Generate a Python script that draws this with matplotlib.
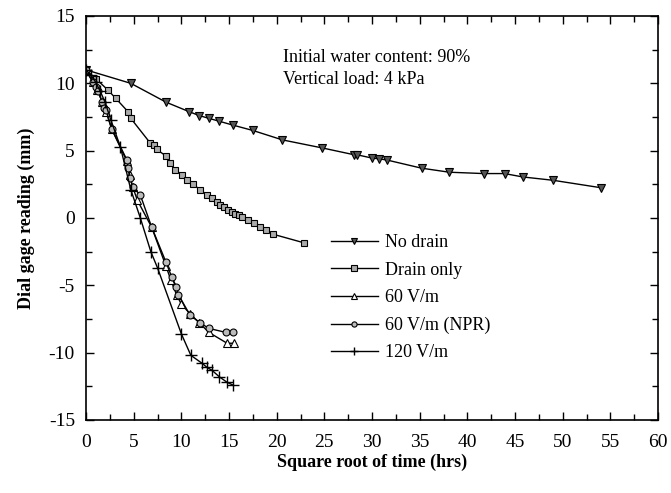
import matplotlib
matplotlib.use("Agg")
import matplotlib.pyplot as plt
from matplotlib.ticker import MultipleLocator

plt.rcParams['font.family'] = ['Liberation Serif', 'DejaVu Serif']
plt.rcParams['axes.unicode_minus'] = False

# ---- data ----
nodrain_x = [0, 4.7, 8.4, 10.8, 11.9, 12.9, 13.9, 15.4, 17.5, 20.6, 24.8, 28.1, 28.4,
             30.0, 30.7, 31.6, 35.2, 38.1, 41.7, 43.9, 45.8, 49.0, 54.0]
nodrain_y = [11.0, 10.0, 8.6, 7.9, 7.6, 7.4, 7.2, 6.9, 6.5, 5.8, 5.2, 4.7, 4.7,
             4.45, 4.4, 4.3, 3.7, 3.4, 3.3, 3.3, 3.05, 2.8, 2.25]

drain_x = [0, 1.1, 2.3, 3.1, 4.4, 4.7, 6.7, 7.1, 7.4, 8.4, 8.8, 9.3, 10.1, 10.6, 11.2,
           12.0, 12.7, 13.2, 13.7, 14.1, 14.5, 14.9, 15.3, 15.6, 16.0, 16.4, 17.0,
           17.6, 18.3, 18.9, 19.6, 22.9]
drain_y = [11.0, 10.3, 9.5, 8.9, 7.9, 7.4, 5.6, 5.4, 5.1, 4.6, 4.1, 3.6, 3.2, 2.8, 2.5,
           2.1, 1.7, 1.5, 1.2, 1.0, 0.8, 0.6, 0.45, 0.3, 0.2, 0.05, -0.15,
           -0.4, -0.65, -0.9, -1.2, -1.85]

v60_x = [0, 0.7, 1.2, 1.7, 2.1, 2.7, 4.3, 4.6, 4.9, 5.4, 6.9, 8.4, 8.9, 9.5, 10.0,
         10.9, 11.9, 12.9, 14.8, 15.5]
v60_y = [11.0, 10.1, 9.5, 8.6, 7.9, 6.6, 4.2, 3.2, 2.3, 1.3, -0.7, -3.6, -4.6, -5.7, -6.4,
         -7.1, -7.8, -8.5, -9.3, -9.3]

npr_x = [0, 0.7, 1.0, 1.3, 1.7, 1.9, 2.1, 2.7, 4.3, 4.4, 4.6, 4.9, 5.7, 6.9, 8.4, 9.0,
         9.4, 9.7, 10.9, 12.0, 12.9, 14.7, 15.4]
npr_y = [11.0, 10.1, 9.7, 9.4, 8.6, 8.2, 8.0, 6.6, 4.3, 3.7, 3.0, 2.3, 1.7, -0.7, -3.3, -4.4,
         -5.1, -5.7, -7.2, -7.8, -8.2, -8.5, -8.5]

v120_x = [0, 0.5, 1.0, 1.5, 2.0, 2.6, 3.6, 4.7, 5.7, 6.8, 7.5, 10.0, 11.0, 12.2, 12.7,
          13.2, 14.0, 14.8, 15.4]
v120_y = [11.0, 10.6, 10.1, 9.4, 8.6, 7.3, 5.3, 2.1, 0.0, -2.5, -3.7, -8.6, -10.2, -10.8, -11.1,
          -11.3, -11.8, -12.2, -12.4]

labels = ['No drain', 'Drain only', '60 V/m', '60 V/m (NPR)', '120 V/m']

# ---- figure ----
fig = plt.figure(figsize=(6.71, 4.93), dpi=100)
ax = fig.add_axes([86/671, 73/493, 572/671, 404/493])

lw = 1.0
ax.plot(nodrain_x, nodrain_y, color='black', lw=lw, marker='v', ms=6,
        mfc='#555555', mec='black', mew=0.8, label=labels[0])
ax.plot(drain_x, drain_y, color='black', lw=lw, marker='s', ms=5,
        mfc='#aaaaaa', mec='black', mew=0.8, label=labels[1])
ax.plot(v60_x, v60_y, color='black', lw=lw, marker='^', ms=5.5,
        mfc='white', mec='black', mew=0.8, label=labels[2])
ax.plot(npr_x, npr_y, color='black', lw=lw, marker='o', ms=5,
        mfc='#bbbbbb', mec='black', mew=0.8, label=labels[3])
ax.plot(v120_x, v120_y, color='black', lw=lw, marker='+', ms=8,
        mec='black', mew=1.0, label=labels[4])

ax.set_xlim(0, 60)
ax.set_ylim(-15, 15)
ax.xaxis.set_major_locator(MultipleLocator(5))
ax.xaxis.set_minor_locator(MultipleLocator(2.5))
ax.yaxis.set_major_locator(MultipleLocator(5))
ax.yaxis.set_minor_locator(MultipleLocator(2.5))
ax.tick_params(which='both', direction='in', top=True, right=True, width=1.0)
ax.tick_params(which='major', length=6, labelsize=14, pad=6)
ax.tick_params(which='minor', length=4)
ax.tick_params(axis='x', which='major', pad=10)
ax.tick_params(axis='y', which='major', pad=8)
for s in ax.spines.values():
    s.set_linewidth(1.2)

ax.set_xlabel('Square root of time (hrs)', fontsize=13, fontweight='bold', labelpad=2)
ax.set_ylabel('Dial gage reading (mm)', fontsize=13, fontweight='bold', labelpad=10)

ax.text(20.7, 11.9, 'Initial water content: 90%', fontsize=13, va='center', ha='left')
ax.text(20.7, 10.25, 'Vertical load: 4 kPa', fontsize=13, va='center', ha='left')

leg = ax.legend(loc='upper left', bbox_to_anchor=(0.428, 0.46), frameon=False,
                fontsize=13, handlelength=2.6, handletextpad=0.4, labelspacing=0.58,
                markerscale=0.75, borderaxespad=0, borderpad=0)

fig.savefig('out.png', dpi=100)
